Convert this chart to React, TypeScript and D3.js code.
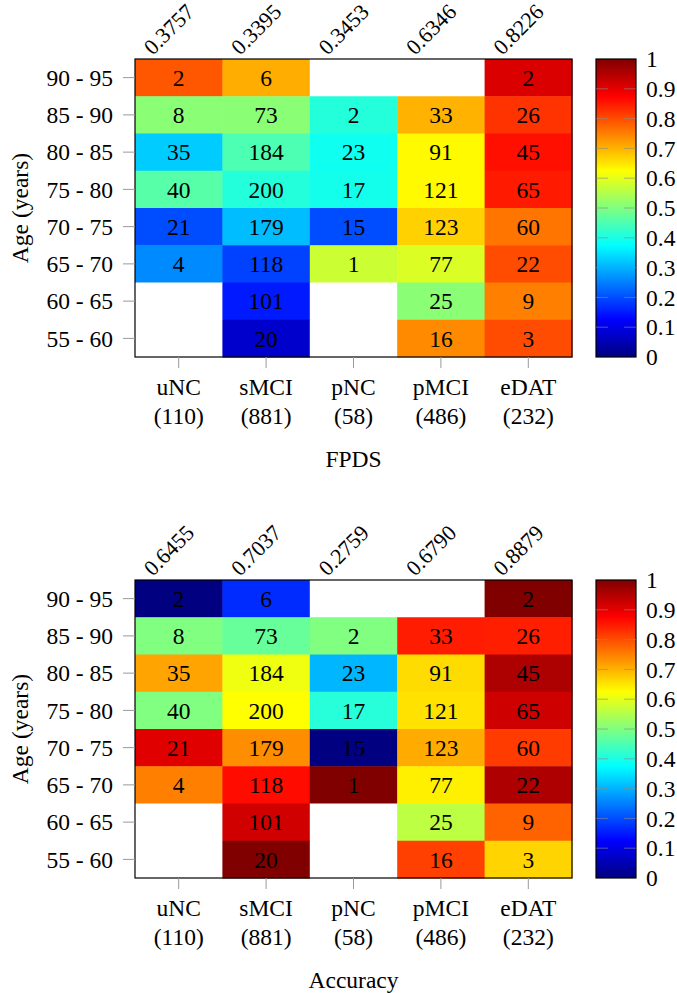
import React from "react";
import * as d3 from "d3";

const categories = ["uNC", "sMCI", "pNC", "pMCI", "eDAT"];
const categoryCounts = ["(110)", "(881)", "(58)", "(486)", "(232)"];
const ageBins = ["90 - 95", "85 - 90", "80 - 85", "75 - 80", "70 - 75", "65 - 70", "60 - 65", "55 - 60"];

const cellCounts: (number | null)[][] = [
  [2, 6, null, null, 2],
  [8, 73, 2, 33, 26],
  [35, 184, 23, 91, 45],
  [40, 200, 17, 121, 65],
  [21, 179, 15, 123, 60],
  [4, 118, 1, 77, 22],
  [null, 101, null, 25, 9],
  [null, 20, null, 16, 3],
];

const fpdsTotals = ["0.3757", "0.3395", "0.3453", "0.6346", "0.8226"];
const accTotals = ["0.6455", "0.7037", "0.2759", "0.6790", "0.8879"];

const fpdsValues: (number | null)[][] = [
  [0.79, 0.705, null, null, 0.91],
  [0.51, 0.51, 0.41, 0.70, 0.825],
  [0.325, 0.45, 0.39, 0.63, 0.86],
  [0.46, 0.41, 0.395, 0.63, 0.85],
  [0.2, 0.31, 0.2, 0.67, 0.76],
  [0.26, 0.19, 0.575, 0.59, 0.8],
  [null, 0.15, null, 0.51, 0.75],
  [null, 0.075, null, 0.74, 0.8],
];

const accValues: (number | null)[][] = [
  [0.0, 0.167, null, null, 1.0],
  [0.5, 0.475, 0.5, 0.848, 0.846],
  [0.714, 0.61, 0.304, 0.659, 0.956],
  [0.5, 0.625, 0.412, 0.653, 0.923],
  [0.905, 0.737, 0.0, 0.707, 0.817],
  [0.75, 0.864, 1.0, 0.64, 0.955],
  [null, 0.92, null, 0.56, 0.778],
  [null, 1.0, null, 0.8125, 0.667],
];

const colorTicks = [0, 0.1, 0.2, 0.3, 0.4, 0.5, 0.6, 0.7, 0.8, 0.9, 1];

const jetStops = [0, 1 / 8, 3 / 8, 5 / 8, 7 / 8, 1];
const jetColors = ["#000080", "#0000ff", "#00ffff", "#ffff00", "#ff0000", "#800000"];
const jet = d3.scaleLinear<string>().domain(jetStops).range(jetColors).interpolate(d3.interpolateRgb).clamp(true);

const FONT = "'Liberation Serif', 'Times New Roman', serif";
const FS = 23.5;
const FS_ROT = 22;

const LEFT = 135;
const RIGHT = 572;
const CB_X0 = 596;
const CB_X1 = 636;

function Heatmap({ top, values, totals, title, id }: { top: number; values: (number | null)[][]; totals: string[]; title: string; id: string }) {
  const bottom = top + 298;
  const x = d3.scaleBand<string>().domain(categories).range([LEFT, RIGHT]);
  const y = d3.scaleBand<string>().domain(ageBins).range([top, bottom]);
  const cbY = d3.scaleLinear().domain([0, 1]).range([bottom, top]);
  const midY = (top + bottom) / 2;
  return (
    <g>
      <defs>
        <linearGradient id={id} x1="0" y1="1" x2="0" y2="0">
          {jetStops.map((s, i) => (
            <stop key={i} offset={s} stopColor={jetColors[i]} />
          ))}
        </linearGradient>
      </defs>
      {values.map((row, ri) =>
        row.map((v, ci) => {
          const cx = x(categories[ci])!;
          const cy = y(ageBins[ri])!;
          return (
            <g key={`${ri}-${ci}`}>
              <rect x={cx} y={cy} width={x.bandwidth() + 0.5} height={y.bandwidth() + 0.5} fill={v === null ? "#ffffff" : jet(v)} />
              {cellCounts[ri][ci] !== null && (
                <text x={cx + x.bandwidth() / 2} y={cy + y.bandwidth() / 2} dy="0.35em" textAnchor="middle" fontSize={FS} fontFamily={FONT} fill="#000">
                  {cellCounts[ri][ci]}
                </text>
              )}
            </g>
          );
        })
      )}
      <rect x={LEFT} y={top} width={RIGHT - LEFT} height={bottom - top} fill="none" stroke="#000" strokeWidth={1.2} />
      {ageBins.map((a) => (
        <g key={a}>
          <line x1={LEFT - 12} x2={LEFT} y1={y(a)! + y.bandwidth() / 2} y2={y(a)! + y.bandwidth() / 2} stroke="#999" strokeWidth={1} />
          <text x={LEFT - 22} y={y(a)! + y.bandwidth() / 2} dy="0.35em" textAnchor="end" fontSize={FS} fontFamily={FONT}>
            {a}
          </text>
        </g>
      ))}
      {categories.map((c, i) => {
        const cx = x(c)! + x.bandwidth() / 2;
        return (
          <g key={c}>
            <line x1={cx} x2={cx} y1={bottom} y2={bottom + 11} stroke="#999" strokeWidth={1} />
            <text x={cx} y={bottom + 38} textAnchor="middle" fontSize={FS} fontFamily={FONT}>
              {c}
            </text>
            <text x={cx} y={bottom + 67} textAnchor="middle" fontSize={FS} fontFamily={FONT}>
              {categoryCounts[i]}
            </text>
            <text transform={`translate(${cx - 26},${top - 3}) rotate(-45)`} fontSize={FS_ROT} fontFamily={FONT}>
              {totals[i]}
            </text>
          </g>
        );
      })}
      <text x={(LEFT + RIGHT) / 2} y={bottom + 110} textAnchor="middle" fontSize={FS} fontFamily={FONT}>
        {title}
      </text>
      <text transform={`translate(28,${midY}) rotate(-90)`} textAnchor="middle" fontSize={FS} fontFamily={FONT}>
        Age (years)
      </text>
      <rect x={CB_X0} y={top} width={CB_X1 - CB_X0} height={bottom - top} fill={`url(#${id})`} stroke="#000" strokeWidth={1.2} />
      {colorTicks.map((t) => (
        <g key={t}>
          {t > 0 && t < 1 && (
            <>
              <line x1={CB_X0} x2={CB_X0 + 12} y1={cbY(t)} y2={cbY(t)} stroke="#888" strokeOpacity={0.6} />
              <line x1={CB_X1 - 12} x2={CB_X1} y1={cbY(t)} y2={cbY(t)} stroke="#888" strokeOpacity={0.6} />
            </>
          )}
          <text x={CB_X1 + 10} y={cbY(t)} dy="0.35em" fontSize={FS} fontFamily={FONT}>
            {t}
          </text>
        </g>
      ))}
    </g>
  );
}

export default function App() {
  return (
    <svg width={677} height={993} style={{ position: "absolute", left: 0, top: 0, background: "#fff" }}>
      <rect width={677} height={993} fill="#fff" />
      <Heatmap top={59} values={fpdsValues} totals={fpdsTotals} title="FPDS" id="cb1" />
      <Heatmap top={580} values={accValues} totals={accTotals} title="Accuracy" id="cb2" />
    </svg>
  );
}
